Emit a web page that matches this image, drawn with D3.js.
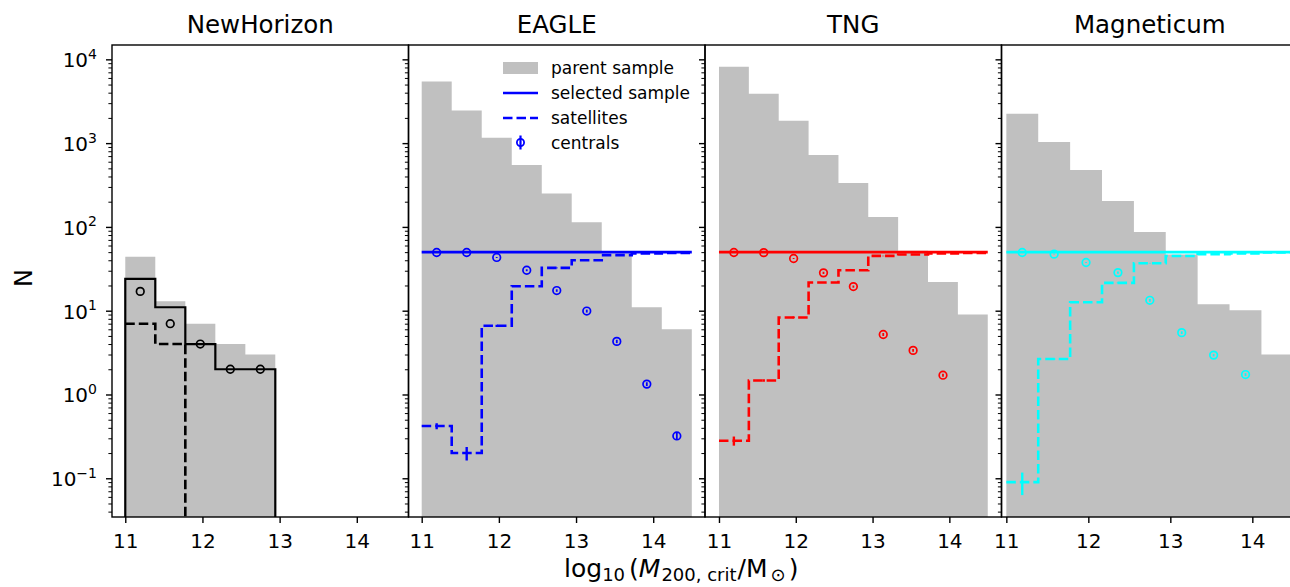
<!DOCTYPE html>
<html>
<head>
<meta charset="utf-8">
<script src="https://cdn.jsdelivr.net/npm/d3@7"></script>
<style>
  body { margin: 0; background: #fff; }
  svg { font-family: "DejaVu Sans", sans-serif; }
</style>
</head>
<body>
<svg id="chart" width="1290" height="587"></svg>
<script>
// bins in log10(M200) used by every panel
const binEdges = [11.0, 11.389, 11.778, 12.167, 12.556, 12.944, 13.333, 13.722, 14.111, 14.5];
const binCenters = [11.194, 11.583, 11.972, 12.361, 12.75, 13.139, 13.528, 13.917, 14.306];

const panelNames = ["NewHorizon", "EAGLE", "TNG", "Magneticum"];
const panelColors = ["#000000", "#0000ff", "#ff0000", "#00ffff"];
const xTicks = [11, 12, 13, 14];
const yTickExponents = [-1, 0, 1, 2, 3, 4];
const legendLabels = ["parent sample", "selected sample", "satellites", "centrals"];

// NewHorizon
const nhParent = [44, 13, 7, 4, 3];
const nhSelected = [24, 11, 4, 2, 2];
const nhSatellites = [7, 4, 0, 0, 0];
const nhCentrals = [17, 7, 4, 2, 2];

// EAGLE
const eagleParent = [5440, 2450, 1160, 550, 250, 114, 48, 11, 6];
const eagleSelected = [50, 50, 50, 50, 50, 50, 50, 50, 50];
const eagleSatellites = [0.42, 0.2, 6.6, 19.6, 32.4, 40, 46, 48.2, 49];
const eagleSatErr = [0.035, 0.037, 0.2, 0.3, 0.3, 0.3, 0.3, 0.3, 0.3];
const eagleCentrals = [49.5, 49.5, 43.2, 30.4, 17.4, 9.9, 4.3, 1.33, 0.32];
const eagleCenErr = [0.5, 0.5, 0.6, 0.8, 0.6, 0.4, 0.2, 0.07, 0.03];

// TNG
const tngParent = [8150, 3880, 1845, 722, 334, 131, 52, 22, 9];
const tngSelected = [50, 50, 50, 50, 50, 50, 50, 50, 50];
const tngSatellites = [0.28, 1.47, 8.3, 21.7, 30.4, 45.1, 46.9, 48.2, 49];
const tngSatErr = [0.035, 0.05, 0.2, 0.3, 0.3, 0.3, 0.3, 0.3, 0.3];
const tngCentrals = [49.5, 49.3, 42, 28.3, 19.4, 5.2, 3.36, 1.7];
const tngCenErr = [0.5, 0.5, 0.6, 0.8, 0.6, 0.2, 0.12, 0.07];

// Magneticum
const magParent = [2235, 1033, 478, 204, 87, 47, 11.9, 10.1, 3.0];
const magSelected = [50, 50, 50, 50, 50, 50, 50, 50, 50];
const magSatellites = [0.09, 2.65, 12.6, 21.5, 36.9, 45, 47.3, 48.2, 49.5];
const magSatErr = [0.027, 0.05, 0.2, 0.3, 0.3, 0.3, 0.3, 0.3, 0.3];
const magCentrals = [49.5, 47.3, 37.6, 28.5, 13.3, 5.47, 2.95, 1.73];
const magCenErr = [0.5, 0.5, 0.6, 0.8, 0.5, 0.2, 0.1, 0.07];

// table the drawing loop walks through
const panels = [
  {parent: nhParent, selected: nhSelected, sats: nhSatellites, satErr: null,
   cens: nhCentrals, cenErr: null, domain: [10.828, 14.67], closed: true},
  {parent: eagleParent, selected: eagleSelected, sats: eagleSatellites, satErr: eagleSatErr,
   cens: eagleCentrals, cenErr: eagleCenErr, domain: [10.829, 14.671]},
  {parent: tngParent, selected: tngSelected, sats: tngSatellites, satErr: tngSatErr,
   cens: tngCentrals, cenErr: tngCenErr, domain: [10.818, 14.679]},
  {parent: magParent, selected: magSelected, sats: magSatellites, satErr: magSatErr,
   cens: magCentrals, cenErr: magCenErr, domain: [10.941, 14.557]}
];

const svg = d3.select("#chart");
const plotTop = 45, plotBottom = 517;
const panelW = 296.5;
const panelLefts = [112, 408.5, 705, 1001.5];
const GRAY = "#c0c0c0";

const y = d3.scaleLog().domain([0.0345, 14830]).range([plotBottom, plotTop]);
const yv = (v) => v > 0 ? y(v) : plotBottom + 20; // zero counts fall off the bottom

// minor ticks 2..9 x 10^k inside the domain
const minorTicks = [];
yTickExponents.concat([-2]).forEach(k => {
  for (let m = 2; m <= 9; m++) {
    const v = m * Math.pow(10, k);
    if (v > y.domain()[0] && v < y.domain()[1]) minorTicks.push(v);
  }
});
const majorTicks = yTickExponents.map(k => Math.pow(10, k));

const defs = svg.append("defs");

panels.forEach((p, i) => {
  const left = panelLefts[i];
  const color = panelColors[i];
  const x = d3.scaleLinear().domain(p.domain).range([left, left + panelW]);

  defs.append("clipPath").attr("id", "clip" + i)
    .append("rect").attr("x", left).attr("y", plotTop).attr("width", panelW).attr("height", plotBottom - plotTop);

  const g = svg.append("g");
  const plot = g.append("g").attr("clip-path", `url(#clip${i})`);

  // step points: one per bin, plus the right edge of the last bin
  const stepPts = (vals) => {
    const pts = vals.map((v, j) => [binEdges[j], v]);
    pts.push([binEdges[vals.length], vals[vals.length - 1]]);
    return pts;
  };

  // parent sample, filled histogram
  const area = d3.area()
    .x(d => x(d[0])).y0(plotBottom + 5).y1(d => yv(d[1]))
    .curve(d3.curveStepAfter);
  plot.append("path").datum(stepPts(p.parent))
    .attr("d", area).attr("fill", GRAY);

  const line = d3.line().x(d => x(d[0])).y(d => yv(d[1])).curve(d3.curveStepAfter);

  // selected sample
  let selPts = stepPts(p.selected);
  if (p.closed) {
    selPts = [[binEdges[0], 0]].concat(selPts);
    selPts.push([binEdges[p.selected.length], 0]);
  }
  plot.append("path").datum(selPts)
    .attr("d", line).attr("fill", "none")
    .attr("stroke", color).attr("stroke-width", p.closed ? 2.2 : 2.6);

  // satellites
  plot.append("path").datum(stepPts(p.sats))
    .attr("d", line).attr("fill", "none")
    .attr("stroke", color).attr("stroke-width", 2.6)
    .attr("stroke-dasharray", "9.5,4");

  if (p.satErr) {
    plot.append("g").selectAll("line")
      .data(p.sats.map((v, j) => ({x: binCenters[j], v, e: p.satErr[j]})))
      .enter().append("line")
      .attr("x1", d => x(d.x)).attr("x2", d => x(d.x))
      .attr("y1", d => y(d.v - d.e)).attr("y2", d => y(d.v + d.e))
      .attr("stroke", color).attr("stroke-width", 2.4);
  }

  // centrals: open circles with error bars
  const cen = p.cens.map((v, j) => ({x: binCenters[j], v, e: p.cenErr ? p.cenErr[j] : 0}));
  if (p.cenErr) {
    plot.append("g").selectAll("line").data(cen).enter().append("line")
      .attr("x1", d => x(d.x)).attr("x2", d => x(d.x))
      .attr("y1", d => y(d.v - d.e)).attr("y2", d => y(d.v + d.e))
      .attr("stroke", color).attr("stroke-width", 1.8);
  }
  plot.append("g").selectAll("circle").data(cen).enter().append("circle")
    .attr("cx", d => x(d.x)).attr("cy", d => y(d.v)).attr("r", 3.8)
    .attr("fill", "none").attr("stroke", color).attr("stroke-width", 1.7);

  // spines
  g.append("rect").attr("x", left).attr("y", plotTop)
    .attr("width", panelW).attr("height", plotBottom - plotTop)
    .attr("fill", "none").attr("stroke", "#000").attr("stroke-width", 1.4);

  // x axis
  const xAxis = g.append("g").attr("transform", `translate(0,${plotBottom})`)
    .call(d3.axisBottom(x).tickValues(xTicks).tickSize(6).tickPadding(10.5).tickFormat(d3.format("d")));
  xAxis.select(".domain").remove();
  xAxis.selectAll("line").attr("stroke-width", 1.4);
  xAxis.selectAll("text").attr("font-size", 20).attr("font-family", "DejaVu Sans").attr("fill", "#000");

  // y axis ticks (labels only on the first panel)
  const yMinor = g.append("g").attr("transform", `translate(${left},0)`)
    .call(d3.axisLeft(y).tickValues(minorTicks).tickSize(3.6).tickFormat(""));
  yMinor.select(".domain").remove();
  yMinor.selectAll("line").attr("stroke-width", 1);
  const yMajor = g.append("g").attr("transform", `translate(${left},0)`)
    .call(d3.axisLeft(y).tickValues(majorTicks).tickSize(6).tickFormat(""));
  yMajor.select(".domain").remove();
  yMajor.selectAll("line").attr("stroke-width", 1.4);

  if (i === 0) {
    const lab = g.append("g").selectAll("text").data(yTickExponents).enter().append("text")
      .attr("x", left - 15).attr("y", d => y(Math.pow(10, d)) + 8)
      .attr("text-anchor", "end").attr("font-size", 20).attr("fill", "#000");
    lab.append("tspan").text("10");
    lab.append("tspan").attr("font-size", 14).attr("dy", -8.5)
      .text(d => d < 0 ? "\u2212" + Math.abs(d) : String(d));
  }

  // title
  svg.append("text").attr("x", left + panelW / 2).attr("y", 33)
    .attr("text-anchor", "middle").attr("font-size", 24.5).attr("fill", "#000")
    .text(panelNames[i]);

  // legend sits in the EAGLE panel
  if (i === 1) {
    const lx = 503, lw = 35, tx = 551;
    const rows = [68, 93, 118, 142.5];
    const lg = svg.append("g");
    lg.append("rect").attr("x", lx).attr("y", rows[0] - 6).attr("width", lw).attr("height", 12).attr("fill", GRAY);
    lg.append("line").attr("x1", lx).attr("x2", lx + lw).attr("y1", rows[1]).attr("y2", rows[1])
      .attr("stroke", color).attr("stroke-width", 2.6);
    lg.append("line").attr("x1", lx).attr("x2", lx + lw).attr("y1", rows[2]).attr("y2", rows[2])
      .attr("stroke", color).attr("stroke-width", 2.6).attr("stroke-dasharray", "9.5,4");
    lg.append("line").attr("x1", lx + lw / 2).attr("x2", lx + lw / 2).attr("y1", rows[3] - 7).attr("y2", rows[3] + 7)
      .attr("stroke", color).attr("stroke-width", 2.2);
    lg.append("circle").attr("cx", lx + lw / 2).attr("cy", rows[3]).attr("r", 3.6)
      .attr("fill", "none").attr("stroke", color).attr("stroke-width", 1.8);
    lg.selectAll("text").data(legendLabels).enter().append("text")
      .attr("x", tx).attr("y", (d, j) => rows[j] + 6)
      .attr("font-size", 17).attr("fill", "#000").text(d => d);
  }
});

// axis labels
svg.append("text")
  .attr("transform", "translate(32,278) rotate(-90)")
  .attr("text-anchor", "middle").attr("font-size", 24).attr("fill", "#000")
  .text("N");

const xl = svg.append("text").attr("x", 564).attr("y", 577).attr("font-size", 25).attr("fill", "#000");
xl.append("tspan").text("log");
xl.append("tspan").attr("font-size", 18).attr("dy", 4).text("10");
xl.append("tspan").attr("dy", -4).attr("dx", 4).text("(");
xl.append("tspan").attr("font-style", "italic").text("M");
xl.append("tspan").attr("font-size", 18).attr("dy", 4).attr("dx", 1).text("200, crit");
xl.append("tspan").attr("dy", -4).attr("dx", 1).text("/M");
xl.append("tspan").attr("font-size", 18).attr("dy", 4).attr("dx", 3).text("\u2299");
xl.append("tspan").attr("dy", -4).attr("dx", 3).text(")");
</script>
</body>
</html>
